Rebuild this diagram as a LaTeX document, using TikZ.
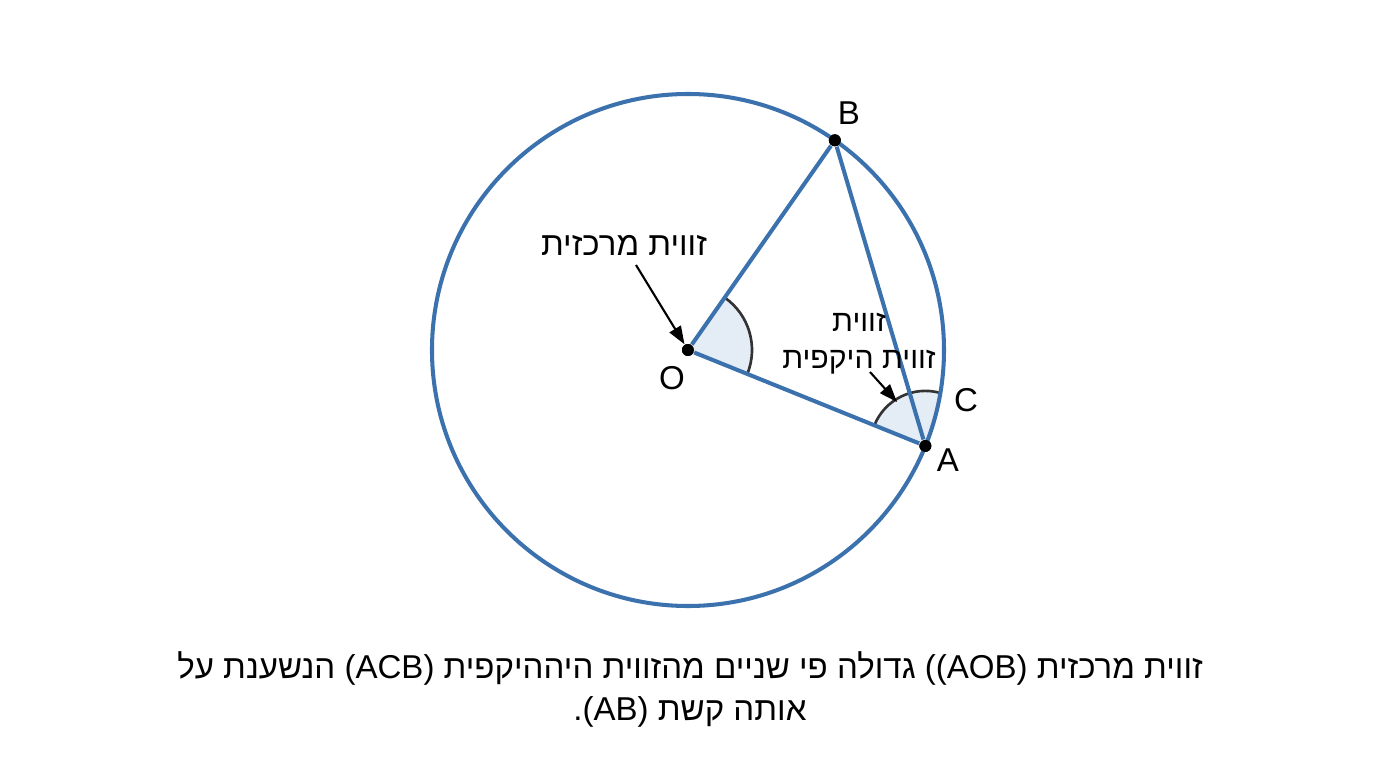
\documentclass[tikz,border=0pt]{standalone}
\usepackage{fontspec}
\setmainfont{Liberation Sans}
\newfontfamily\latfont{Liberation Sans}
\newfontfamily\hebfont[Script=Hebrew]{Liberation Sans}
\TeXXeTstate=1
\usetikzlibrary{arrows.meta}
\definecolor{circBlue}{RGB}{59,113,173}
\definecolor{angFill}{RGB}{228,236,246}
\definecolor{angGray}{RGB}{51,51,51}
\tikzset{
  dot/.style = {circle, fill = black, inner sep = 0pt, minimum size = 0.12cm},
  blueline/.style = {circBlue, line width = 1.15pt},
  angarc/.style = {angGray, line width = 0.75pt},
  ptr/.style = {-{Triangle[length = 0.18cm, width = 0.13cm]}, line width = 0.6pt},
  lbl/.style = {font = \fontsize{9.4}{10.5}\selectfont, inner sep = 0pt},
}

\begin{document}
\begin{tikzpicture}
		\useasboundingbox (-6.88, -4.18) rectangle (6.88, 3.50);
		%%%%%%%%%%%%%
		\node[dot] (O) at (0, 0) {};
		\node[dot] (A) at (-22:2.56) {};
		\node[dot] (B) at (55:2.56) {};
		\coordinate (tailO) at (-0.52, 0.85);
		\coordinate (tailA) at (1.82, -0.22);
		\coordinate (headA) at (2.09, -0.52);
		%%%%%%%%%%%%%
		\begin{scope}
			\clip (O.center) circle (2.56);
			\fill [angFill] (A.center) -- ++(158:0.55) arc (158:40:0.55) -- cycle;
		\end{scope}
		\fill [angFill] (O.center) -- ++(-22:0.64) arc (-22:55:0.64) -- cycle;
		\draw [angarc] ([shift = {(-22:0.64)}]O.center) arc (-22:55:0.64);
		\draw [angarc] ([shift = {(158:0.55)}]A.center) arc (158:74:0.55);
		%%%%%%%%%%%%%
		\draw [blueline] (O.center) circle (2.56);
		\draw [blueline] (O) to (A); \draw [blueline] (O) to (B);
		\draw [blueline] (B) to (A);
		\node[dot] at (O) {}; \node[dot] at (A) {}; \node[dot] at (B) {};
		%%%%%%%%%%%%%
		\node[lbl] (lB) at (1.61, 2.37) {B};
		\node[lbl] (lA) at (2.60, -1.10) {A};
		\node[lbl] (lO) at (-0.16, -0.28) {O};
		\node[lbl] (lC) at (2.78, -0.50) {C};
		\node[lbl] (lCentral) at (-0.64, 1.05) {\hebfont\beginR זווית מרכזית\endR};
		\node[lbl, font = \fontsize{8.6}{10.5}\selectfont, align = center] (lInscribed) at (1.71, 0.065)
			{\hebfont\beginR זווית\endR\\\hebfont\beginR זווית היקפית\endR};
		\draw [ptr] (tailO) to (O);
		\draw [ptr] (tailA) to (headA);
		%%%%%%%%%%%%%
		\node[lbl] (cap1) at (0.02, -3.18)
			{\hebfont\beginR זווית מרכזית \beginL{\latfont((AOB)}\endL{} גדולה פי שניים מהזווית היההיקפית \beginL{\latfont(ACB)}\endL{} הנשענת על\endR};
		\node[lbl] (cap2) at (0.02, -3.62)
			{\hebfont\beginR אותה קשת \beginL{\latfont(AB)}\endL{\latfont.}\endR};
\end{tikzpicture}
\end{document}
